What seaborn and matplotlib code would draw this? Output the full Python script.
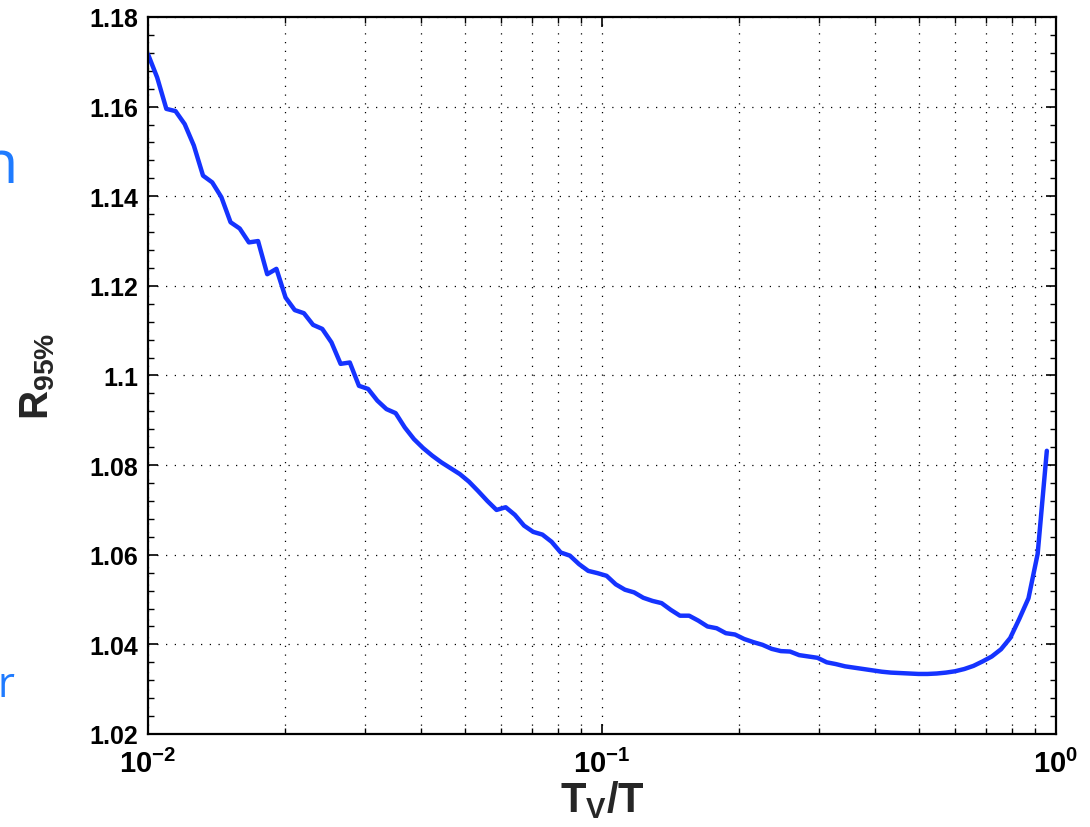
import matplotlib
matplotlib.use("Agg")
import matplotlib.pyplot as plt
import seaborn as sns
import numpy as np
import pandas as pd
from matplotlib.ticker import FixedLocator, LogLocator, NullFormatter, FormatStrFormatter, AutoMinorLocator

# ---- data ----
tv_over_t = [
    0.010000, 0.010476, 0.010975, 0.011498, 0.012045, 0.012619, 0.013219, 0.013849, 0.014508, 0.015199,
    0.015923, 0.016681, 0.017475, 0.018307, 0.019179, 0.020092, 0.021049, 0.022051, 0.023101, 0.024201,
    0.025354, 0.026561, 0.027826, 0.029151, 0.030539, 0.031993, 0.033516, 0.035112, 0.036784, 0.038535,
    0.040370, 0.042292, 0.044306, 0.046416, 0.048626, 0.050941, 0.053367, 0.055908, 0.058570, 0.061359,
    0.064281, 0.067342, 0.070548, 0.073907, 0.077426, 0.081113, 0.084975, 0.089022, 0.093260, 0.097701,
    0.102353, 0.107227, 0.112332, 0.117681, 0.123285, 0.129155, 0.135305, 0.141747, 0.148497, 0.155568,
    0.162975, 0.170735, 0.178865, 0.187382, 0.196304, 0.205651, 0.215443, 0.225702, 0.236449, 0.247708,
    0.259502, 0.271859, 0.284804, 0.298365, 0.312572, 0.327455, 0.343047, 0.359381, 0.376494, 0.394421,
    0.413201, 0.432876, 0.453488, 0.475081, 0.497702, 0.521401, 0.546228, 0.572237, 0.599484, 0.628029,
    0.657933, 0.689261, 0.722081, 0.756463, 0.792483, 0.830218, 0.869749, 0.911163, 0.954548,
]
r95 = [
    1.1717, 1.1665, 1.1595, 1.1590, 1.1561, 1.1513, 1.1446, 1.1431, 1.1398, 1.1342,
    1.1328, 1.1297, 1.1300, 1.1226, 1.1238, 1.1174, 1.1146, 1.1139, 1.1113, 1.1104,
    1.1074, 1.1026, 1.1029, 1.0977, 1.0970, 1.0944, 1.0925, 1.0916, 1.0884, 1.0858,
    1.0838, 1.0821, 1.0806, 1.0793, 1.0780, 1.0763, 1.0742, 1.0720, 1.0700, 1.0706,
    1.0689, 1.0665, 1.0651, 1.0645, 1.0629, 1.0605, 1.0598, 1.0579, 1.0564, 1.0559,
    1.0553, 1.0534, 1.0522, 1.0516, 1.0504, 1.0497, 1.0492, 1.0477, 1.0464, 1.0464,
    1.0453, 1.0440, 1.0436, 1.0425, 1.0422, 1.0412, 1.0405, 1.0399, 1.0390, 1.0385,
    1.0384, 1.0376, 1.0373, 1.0370, 1.0360, 1.0356, 1.0351, 1.0348, 1.0345, 1.0342,
    1.0339, 1.0337, 1.0336, 1.0335, 1.0334, 1.0334, 1.0335, 1.0337, 1.0340, 1.0345,
    1.0352, 1.0362, 1.0373, 1.0389, 1.0414, 1.0457, 1.0503, 1.0602, 1.0832,
]
y_ticks = [1.02, 1.04, 1.06, 1.08, 1.10, 1.12, 1.14, 1.16, 1.18]
x_ticks = [0.01, 0.1, 1.0]
x_label = r"$\mathbf{T_V/T}$"
y_label = r"$\mathbf{R_{95\%}}$"
side_letters = ["n", "n", "r"]

df = pd.DataFrame({"x": tv_over_t, "y": r95})

# ---- style ----
sns.set_style("ticks")
plt.rcParams["font.family"] = ["Liberation Sans", "DejaVu Sans"]
plt.rcParams["font.weight"] = "bold"
plt.rcParams["mathtext.fontset"] = "custom"
plt.rcParams["mathtext.rm"] = "Liberation Sans:bold"
plt.rcParams["mathtext.bf"] = "Liberation Sans:bold"
plt.rcParams["mathtext.it"] = "Liberation Sans:bold"
plt.rcParams["mathtext.default"] = "bf"

fig = plt.figure(figsize=(10.9, 8.28), dpi=100)
ax = fig.add_axes([148 / 1090, 1 - 735 / 828, (1056 - 148) / 1090, (735 - 18) / 828])

sns.lineplot(data=df, x="x", y="y", ax=ax, color="#1533ff", linewidth=3.2, legend=False)

ax.set_xscale("log")
ax.set_xlim(0.01, 1.0)
ax.set_ylim(1.02, 1.18)

ax.xaxis.set_major_locator(FixedLocator(x_ticks))
ax.xaxis.set_minor_locator(LogLocator(base=10, subs=np.arange(2, 10), numticks=20))
ax.xaxis.set_minor_formatter(NullFormatter())
ax.yaxis.set_major_locator(FixedLocator(y_ticks))
ax.yaxis.set_major_formatter(FormatStrFormatter("%g"))
ax.yaxis.set_minor_locator(AutoMinorLocator(5))

ax.tick_params(axis="both", which="both", direction="in", top=True, right=True, colors="black")
ax.tick_params(axis="both", which="major", length=7, width=1.2)
ax.tick_params(axis="both", which="minor", length=4, width=1.0)
ax.tick_params(axis="y", which="major", labelsize=18, pad=7)
ax.tick_params(axis="x", which="major", labelsize=21, pad=11)
for lab in ax.get_yticklabels():
    lab.set_fontweight("bold")

ax.grid(True, which="major", axis="both", linestyle=(0, (1, 6)), color="black", linewidth=0.9)
ax.grid(True, which="minor", axis="x", linestyle=(0, (1, 6)), color="black", linewidth=0.9)
ax.grid(False, which="minor", axis="y")

for sp in ax.spines.values():
    sp.set_visible(True)
    sp.set_linewidth(1.6)
    sp.set_color("black")

ax.set_xlabel(x_label, fontsize=30)
ax.set_ylabel(y_label, fontsize=29)
ax.xaxis.set_label_coords(0.5, -0.062)
ax.yaxis.set_label_coords(-0.100, 0.5)

# cropped blue letters at the left edge of the reference
side_pos = [(18 / 1090, 1 - 183 / 828, 44), (4 / 1090, 1 - 572 / 828, 44), (14 / 1090, 1 - 697 / 828, 30)]
for ch, (fx, fy, fs) in zip(side_letters, side_pos):
    fig.text(fx, fy, ch, color="#1f7bff", fontsize=fs, fontweight="normal",
             family=["Open Sans", "DejaVu Sans"], ha="right", va="baseline")

fig.savefig("out.png", dpi=100, facecolor="white")
